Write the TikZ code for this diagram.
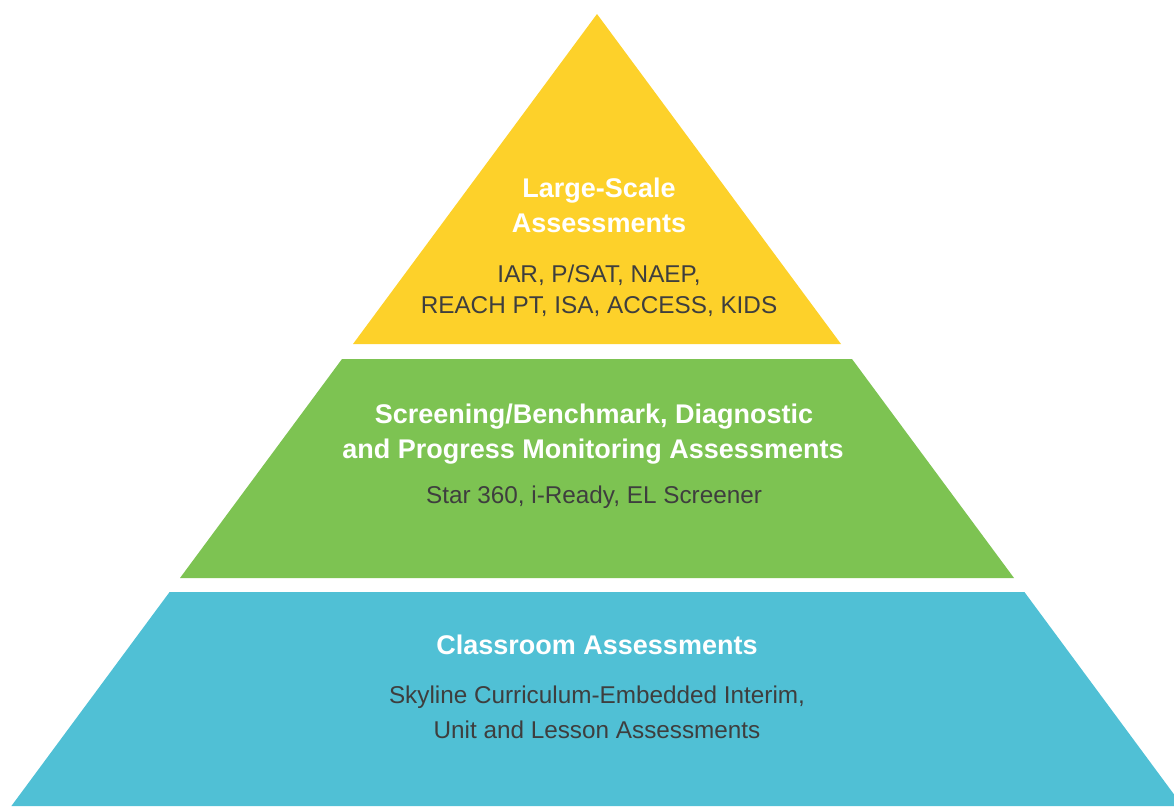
\documentclass[tikz,border=0pt]{standalone}
\usepackage{fontspec}
\setmainfont{Liberation Sans}
\definecolor{tierYellow}{HTML}{FDD12A}
\definecolor{tierGreen}{HTML}{7DC352}
\definecolor{tierBlue}{HTML}{50C0D5}
\definecolor{subGray}{HTML}{3E3E3E}
\tikzset{
  tiertitle/.style={anchor=base, inner sep=0pt, text=white, font=\fontsize{27}{32}\selectfont\bfseries},
  tiersub/.style={anchor=base, inner sep=0pt, text=subGray, font=\fontsize{24.3}{30}\selectfont},
}
\begin{document}
\begin{tikzpicture}[x=1pt,y=-1pt]
\useasboundingbox (0,0) rectangle (1174,806);
\begin{scope}
\clip (0,0) rectangle (1174,806);
\fill[tierYellow] (597,14) -- (841,344) -- (353,344) -- cycle;
\fill[tierGreen] (342,359) -- (852,359) -- (1014,578) -- (180,578) -- cycle;
\fill[tierBlue] (169.6,592) -- (1024.4,592) -- (1182.6,806) -- (11.4,806) -- cycle;
\end{scope}
% top tier
\node[tiertitle] (t1a) at (599,197) {Large-Scale};
\node[tiertitle] (t1b) at (599,232) {Assessments};
\node[tiersub] (s1a) at (599,282) {IAR, P/SAT, NAEP,};
\node[tiersub] (s1b) at (599,313) {REACH PT, ISA, ACCESS, KIDS};
% middle tier
\node[tiertitle] (t2a) at (594,423) {Screening/Benchmark, Diagnostic};
\node[tiertitle] (t2b) at (593,458) {and Progress Monitoring Assessments};
\node[tiersub] (s2a) at (594,503) {Star 360, i-Ready, EL Screener};
% bottom tier
\node[tiertitle] (t3a) at (597,654) {Classroom Assessments};
\node[tiersub] (s3a) at (597,703) {Skyline Curriculum-Embedded Interim,};
\node[tiersub] (s3b) at (597,738) {Unit and Lesson Assessments};
\end{tikzpicture}
\end{document}
